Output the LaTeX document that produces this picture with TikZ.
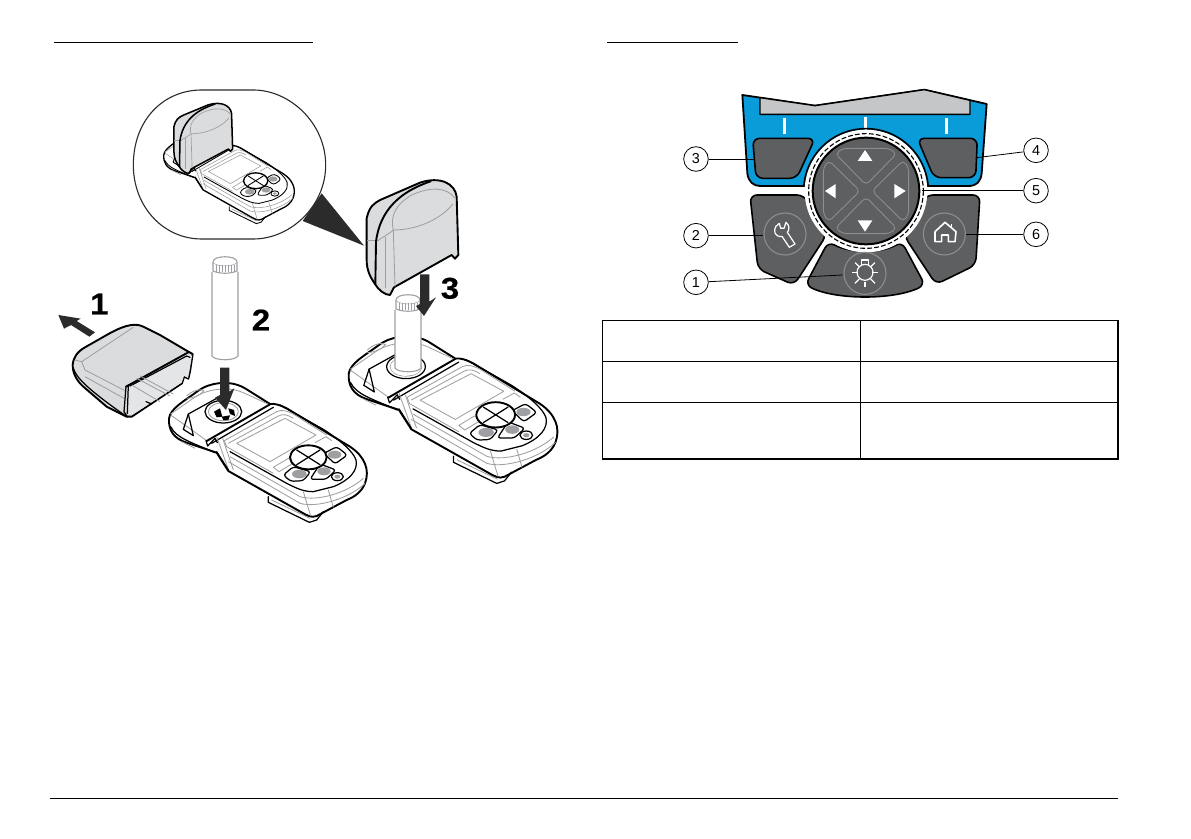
\documentclass[tikz,border=0pt]{standalone}
\usepackage{fontspec}
\setmainfont{Liberation Sans}
\newfontfamily\stepfont[FakeStretch=1.1,FakeBold=0.5]{Liberation Sans Bold}
\usepackage{tikz}
\definecolor{panelblue}{HTML}{0A9BD9}
\definecolor{keygrey}{HTML}{5E5F61}
\definecolor{ringgrey}{HTML}{8C8D8F}
\definecolor{capgrey}{HTML}{DADCDD}
\definecolor{linegrey}{HTML}{9D9FA2}
\definecolor{arrowdark}{HTML}{2B2B2B}
\newcommand{\devw}{1}
\tikzset{
  blackline/.style={draw=black, line width=\devw*0.62pt, line join=round, line cap=round},
  thickline/.style={draw=black, line width=\devw*0.95pt, line join=round, line cap=round},
  greyline/.style={draw=linegrey, line width=\devw*0.42pt, line join=round},
  tubeline/.style={draw=linegrey, line width=0.55pt},
}
\newcommand{\devicebody}[1]{
  \def\devw{#1}
  % body
  \path[fill=white] (387,445) .. controls (392,415) and (430,395) .. (475,362) .. controls (505,340) and (570,325) .. (620,358) -- (690,402) .. controls (705,400) and (720,405) .. (740,415) -- (930,530) .. controls (975,560) and (990,600) .. (975,640) .. controls (965,665) and (945,680) .. (920,690) -- (850,725) -- (830,750) -- (808,757) -- (685,697) -- (685,682) -- (565,603) -- (530,548) -- (440,518) .. controls (400,505) and (385,480) .. (387,445);
  \draw[blackline] (685,680) -- (685,697) -- (808,757) -- (830,750) -- (850,725);
  \draw[greyline] (695,690) -- (810,745);
  \draw[thickline] (387,445) .. controls (392,415) and (430,395) .. (475,362) .. controls (505,340) and (570,325) .. (620,358) -- (690,402) .. controls (705,400) and (720,405) .. (740,415) -- (930,530) .. controls (975,560) and (990,600) .. (975,640) .. controls (965,665) and (945,680) .. (920,690) -- (830,738) .. controls (815,745) and (800,735) .. (790,730) -- (565,603) -- (530,548) -- (440,518) .. controls (400,505) and (385,480) .. (387,445);
  % lid
  \draw[greyline] (392,432) -- (470,378) .. controls (510,355) and (570,350) .. (610,368) -- (690,405);
  \draw[greyline] (392,435) -- (430,462) -- (500,512);
  \draw[greyline] (440,378) .. controls (455,362) and (480,355) .. (492,362) .. controls (480,378) and (455,385) .. (440,385);
  \draw[blackline] (430,478) -- (445,432) -- (530,385);
  \draw[blackline] (430,478) -- (460,497) -- (445,432);
  \draw[thickline] (500,513) -- (690,403);
  \draw[blackline] (515,520) -- (700,412);
  \draw[blackline] (498,512) -- (503,528) -- (525,505) -- (532,518);
  \draw[blackline] (392,470) .. controls (410,505) and (450,515) .. (525,548);
  \draw[greyline] (425,515) -- (465,535);
  % well
  \draw[blackline, fill=white] (550,425) ellipse[x radius=55, y radius=34];
  \draw[greyline] (550,425) ellipse[x radius=45, y radius=27];
  \fill (522,425) -- (540,415) -- (547,440) -- (530,442) -- cycle;
  \fill (565,415) -- (582,420) -- (585,438) -- (570,432) -- cycle;
  \fill (545,440) -- (570,436) -- (565,450) -- (550,450) -- cycle;
  % band
  \draw[greyline] (530,500) -- (565,598);
  \draw[greyline] (548,505) -- (580,600);
  \draw[blackline] (530,545) -- (565,600);
  % face
  \draw[greyline] (553,512) -- (710,425) .. controls (725,418) and (740,422) .. (760,432) -- (860,495);
  \draw[greyline] (565,520) -- (715,438) .. controls (730,430) and (745,435) .. (760,445);
  \draw[greyline] (553,512) -- (560,530) -- (700,610);
  \draw[greyline] (590,520) -- (735,445) -- (828,495) -- (690,575) -- cycle;
  \draw[blackline] (720,405) -- (850,478) .. controls (900,510) and (940,545) .. (948,570) .. controls (955,600) and (930,630) .. (880,650) -- (820,665) .. controls (790,665) and (770,655) .. (740,640) -- (570,545);
  \draw[greyline] (570,560) -- (780,680) .. controls (830,695) and (920,670) .. (970,625);
  \draw[greyline] (565,575) -- (780,700) .. controls (830,715) and (930,685) .. (975,640);
  \draw[greyline] (790,665) -- (812,738);
  \draw[greyline] (865,660) -- (880,712);
  % keypad
  \draw[greyline] (700,592) -- (745,565) -- (762,578) -- (717,605) -- cycle;
  \draw[greyline] (825,518) -- (858,500) -- (875,512);
  \draw[blackline, fill=white, rounded corners=1.5pt] (730,615) -- (760,590) -- (812,605) -- (790,632) -- (752,634) -- cycle;
  \draw[blackline, fill=white, rounded corners=1.5pt] (810,628) -- (840,582) -- (888,600) -- (858,628) -- cycle;
  \draw[blackline, fill=white, rounded corners=1.5pt] (852,550) -- (890,530) -- (922,555) -- (885,582) -- cycle;
  \fill[linegrey] (884,554) ellipse[x radius=20, y radius=12];
  \fill[linegrey] (778,612) ellipse[x radius=22, y radius=13];
  \fill[linegrey] (852,604) ellipse[x radius=20, y radius=12];
  \draw[thickline, fill=white] (805,562) ellipse[x radius=55, y radius=36];
  \draw[blackline] (770,540) -- (840,584);
  \draw[blackline] (770,584) -- (840,540);
  \draw[blackline, fill=white] (892,620) ellipse[x radius=18, y radius=12];
  \fill[linegrey] (892,620) ellipse[x radius=9, y radius=6];
}
\newcommand{\capfront}[1]{
  \def\devw{#1}
  \draw[thickline, fill=capgrey] (80,115) .. controls (88,80) and (100,70) .. (125,58) -- (240,8) .. controls (300,-12) and (345,10) .. (350,50) -- (355,225) -- (345,236) -- (335,225) -- (162,322) -- (150,345) .. controls (135,345) and (115,330) .. (105,312) .. controls (90,290) and (80,270) .. (80,240) -- cycle;
  \draw[greyline] (116,180) .. controls (130,170) and (150,160) .. (160,150) .. controls (240,150) and (310,110) .. (338,72);
  \draw[greyline] (345,55) .. controls (320,20) and (270,20) .. (215,45) .. controls (165,75) and (150,110) .. (160,150);
  \draw[greyline] (82,180) -- (116,180);
  \draw[greyline] (135,172) -- (135,325);
  \draw[greyline] (160,150) -- (165,320);
  \draw[thickline] (272,4) .. controls (180,35) and (120,90) .. (108,185) -- (106,312);
}
\newcommand{\sampletube}[1]{
  \draw[tubeline, fill=white] (-13,15) -- (-13,#1-4) .. controls (-10,#1+1) and (10,#1+1) .. (13,#1-4) -- (13,15);
  \draw[tubeline, fill=white] (-12,14) -- (-12,5) .. controls (-12,-2) and (12,-2) .. (12,5) -- (12,14) .. controls (5,17) and (-5,17) .. (-12,14) -- cycle;
  \draw[tubeline, line width=0.25pt] (-12,6) .. controls (-5,10) and (5,10) .. (12,6);
  \foreach \kx in {-9,-6,-3,0,3,6,9}{
    \draw[tubeline, line width=0.25pt] (\kx,8) -- (\kx,15);
  }
}
\begin{document}
\begin{tikzpicture}[
  x=0.5pt, y=-0.5pt,
  zoomed/.style={x=0.16667pt, y=-0.16667pt},
  rule/.style={draw=black, line width=0.6pt},
  callout/.style={draw=black, circle, fill=white, minimum size=12.3pt, inner sep=0pt,
                  line width=0.4pt, font=\fontsize{7.2}{8}\selectfont},
  pointer/.style={draw=black, line width=0.4pt},
  keyshape/.style={fill=keygrey, draw=black, line width=0.8pt, line join=round, rounded corners=3.5pt},
  keyring/.style={draw=ringgrey, line width=0.55pt},
  icon/.style={draw=white, line width=0.6pt, line join=round},
  tri/.style={fill=white},
  stepnum/.style={font=\fontsize{15}{15}\stepfont, inner sep=0pt},
  fatarrow/.style={fill=arrowdark},
]
\useasboundingbox (0,0) rectangle (1191,839);
\draw[rule] (54,42.5) -- (313,42.5);
\draw[rule] (607,42.5) -- (738,42.5);
\draw[rule] (50,798.5) -- (1118,798.5);

% table
\draw[rule] (602.5,320.5) rectangle (1118,459);
\draw[rule] (602.5,361.5) -- (1118,361.5);
\draw[rule] (602.5,402.5) -- (1118,402.5);
\draw[rule] (860.5,320.5) -- (860.5,459);

% keypad
\begin{scope}[shift={(660,85)}, zoomed]
\draw[fill=panelblue, draw=black, line width=0.9pt, line join=round] (247,30) -- (465,62) -- (793,14) -- (980,57) -- (965,265) .. controls (962,290) and (950,303) .. (925,303) -- (300,303) .. controls (280,303) and (265,290) .. (262,265) -- cycle;
\draw[fill=capgrey!90!black, draw=black, line width=0.7pt, line join=round] (300,38) -- (465,62) -- (793,14) -- (930,46) -- (930,88) -- (300,88) -- cycle;
\draw[draw=white, line width=1.5pt] (372,100) -- (372,148);
\draw[draw=white, line width=1.5pt] (615,95) -- (615,135);
\draw[draw=white, line width=1.5pt] (858,98) -- (858,148);
\draw[keyshape] (278,160) -- (465,160) -- (410,280) -- (288,280) -- cycle;
\draw[keyshape] (772,160) -- (952,160) -- (947,278) -- (822,278) -- cycle;
\draw[keyshape] (270,330) -- (432,330) -- (500,450) -- (402,600) -- (294,552) -- cycle;
\draw[keyshape] (960,330) -- (798,330) -- (732,452) -- (828,598) -- (947,540) -- cycle;
\draw[keyshape] (505,470) .. controls (570,505) and (665,505) .. (725,470) -- (795,600) .. controls (700,645) and (530,645) .. (436,600) -- cycle;
% dial
\fill[white] (618,318) circle[radius=184];
\begin{scope}
\clip (380,100) rectangle (860,300);
\draw[black, line width=0.8pt] (618,318) circle[radius=187];
\end{scope}
\draw[black, line width=0.55pt, dash pattern=on 2.4pt off 1.1pt] (618,318) circle[radius=172];
\draw[fill=keygrey, draw=black, line width=1pt] (618,318) circle[radius=160];
\foreach \ang in {0,90,180,270}{
  \draw[keyring, rotate around={\ang:(618,318)}, rounded corners=2.2pt, line width=0.45pt] (618,300) -- (526,206) -- (548,190) -- (688,190) -- (710,206) -- cycle;
}
\fill[tri] (615,195) -- (593,228) -- (637,228) -- cycle;
\fill[tri] (615,440) -- (593,406) -- (637,406) -- cycle;
\fill[tri] (495,318) -- (527,297) -- (527,340) -- cycle;
\fill[tri] (737,318) -- (703,297) -- (703,340) -- cycle;
\draw[keyring] (375,447) circle[radius=63];
\draw[keyring] (853,447) circle[radius=63];
\draw[keyring] (615,565) circle[radius=63];
\draw[icon] (358,415) .. controls (340,425) and (340,445) .. (352,452) .. controls (357,455) and (362,455) .. (366,454) -- (388,487) -- (405,477) -- (382,442) .. controls (388,435) and (390,422) .. (378,412) -- (372,430) -- (362,430) -- cycle;
\draw[icon, line width=0.8pt] (825,440) -- (855,412) -- (888,440) -- (885,470) -- (865,470) -- (865,450) -- (845,450) -- (845,470) -- (825,470) -- cycle;
\draw[icon, line width=0.8pt] (875,428) -- (875,417);
\draw[icon] (615,562) circle[radius=24];
\draw[icon] (605,540) -- (605,525) -- (625,525) -- (625,540);
\foreach \ax/\ay/\bx/\by in {577/563/595/563, 637/563/655/563, 615/590/615/607, 585/533/598/545, 645/533/632/545, 585/595/598/582, 645/595/632/582}{
  \draw[icon] (\ax,\ay) -- (\bx,\by);
}
\node[callout] (c3) at (108,222) {3};
\node[callout] (c4) at (1128,196) {4};
\node[callout] (c5) at (1128,317) {5};
\node[callout] (c6) at (1128,448) {6};
\node[callout] (c2) at (108,452) {2};
\node[callout] (c1) at (108,592) {1};
\coordinate (k3) at (285,222);
\coordinate (k4) at (950,218);
\coordinate (k5) at (785,317);
\coordinate (k6) at (918,448);
\coordinate (k2) at (310,452);
\coordinate (k1) at (548,570);
\draw[pointer] (c3) -- (k3);
\draw[pointer] (c4) -- (k4);
\draw[pointer] (c5) -- (k5);
\draw[pointer] (c6) -- (k6);
\draw[pointer] (c2) -- (k2);
\draw[pointer] (c1) -- (k1);
\end{scope}

% inset
\begin{scope}[shift={(120,80)}, zoomed]
\draw[draw=arrowdark, line width=0.55pt, fill=white] (40,255) .. controls (40,120) and (130,30) .. (245,30) -- (400,30) .. controls (510,30) and (617,130) .. (617,255) .. controls (617,380) and (510,477) .. (400,477) -- (245,477) .. controls (130,477) and (40,380) .. (40,255);
\fill[arrowdark] (605,340) -- (732,497) -- (548,423) -- cycle;
\end{scope}
\begin{scope}[shift={(78.6,57.1)}, zoomed, scale=0.66]
\devicebody{0.7}
\end{scope}
\begin{scope}[shift={(156.9,103.3)}, zoomed, xscale=0.64, yscale=0.61]
\capfront{0.8}
\end{scope}

% step one and two
\begin{scope}[shift={(40,270)}, zoomed]
\devicebody{1}
\draw[thickline, fill=capgrey] (98,285) .. controls (100,262) and (112,245) .. (135,232) -- (200,195) .. controls (240,172) and (280,155) .. (310,170) -- (360,195) -- (445,245) -- (458,252) -- (450,305) -- (445,326) -- (432,320) -- (426,340) -- (275,440) -- (260,440) -- (200,410) -- (130,350) .. controls (110,332) and (98,310) .. (98,285);
\path[fill=capgrey!75!white] (262,345) -- (440,250) -- (456,258) -- (448,305) -- (444,324) -- (432,318) -- (425,338) -- (275,436) -- (265,430) -- cycle;
\draw[thickline] (258,350) -- (445,247);
\draw[blackline] (270,348) -- (440,258) -- (450,262);
\draw[blackline] (258,350) -- (252,425) -- (262,440);
\draw[blackline] (265,345) -- (262,430);
\draw[greyline] (105,270) -- (125,275) -- (215,215) -- (280,172);
\draw[greyline] (125,275) -- (135,300) -- (255,362);
\draw[greyline] (135,320) -- (252,385);
\draw[greyline] (290,325) -- (390,378);
\draw[greyline] (275,345) -- (360,395);
\draw[greyline] (300,318) -- (400,372);
\draw[blackline] (100,295) .. controls (110,320) and (125,345) .. (260,440);
\draw[blackline] (318,395) -- (335,402);
\fill[fatarrow] (55,135) -- (122,146) -- (110,153) -- (165,187) -- (148,200) -- (93,165) -- (72,176) -- cycle;
\node[stepnum] (step1) at (178,102) {1};
\node[stepnum] (step2) at (663,150) {2};
\end{scope}
\begin{scope}[shift={(225,257)}]
\sampletube{103}
\end{scope}
\begin{scope}[shift={(40,270)}, zoomed]
\fill[fatarrow] (540,293) -- (568,293) -- (568,365) -- (583,355) -- (558,420) -- (525,383) -- (540,375) -- cycle;
\end{scope}

% step three
\begin{scope}[shift={(212.6,217.2)}, zoomed, scale=1.055]
\devicebody{1}
\fill[white] (550,425) ellipse[x radius=44, y radius=26];
\end{scope}
\begin{scope}[shift={(408,295)}]
\sampletube{77}
\end{scope}
\begin{scope}[shift={(340,180)}, zoomed]
\capfront{1}
\fill[fatarrow] (240,283) -- (268,283) -- (268,365) -- (288,352) -- (252,408) -- (228,378) -- (240,372) -- cycle;
\node[stepnum] (step3) at (330,325) {3};
\end{scope}
\end{tikzpicture}
\end{document}
